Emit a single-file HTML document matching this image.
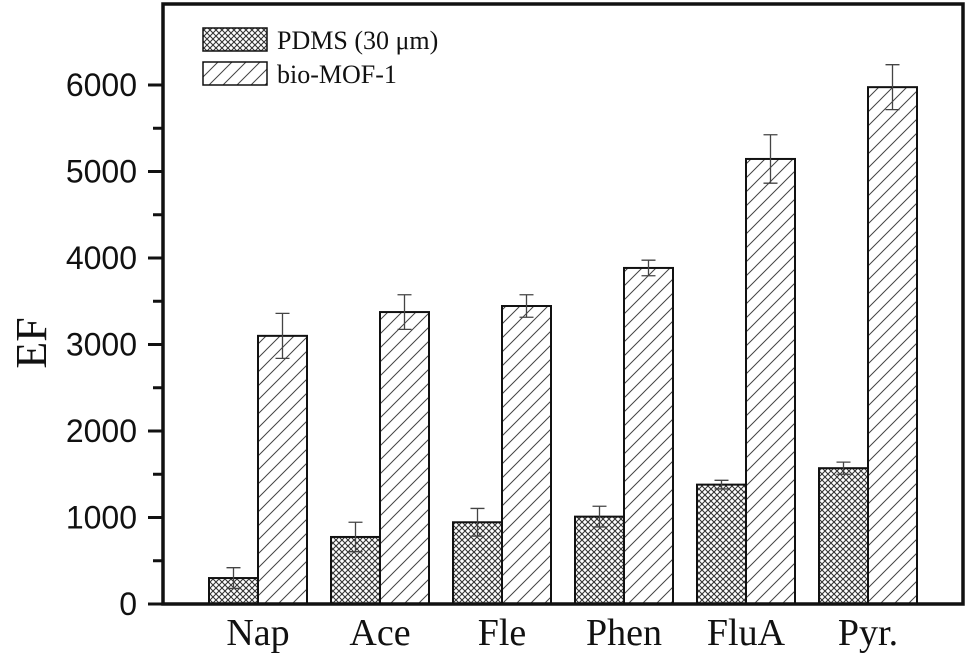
<!DOCTYPE html>
<html><head><meta charset="utf-8"><style>
body{margin:0;background:#fff}
svg text{font-family:"Liberation Serif",serif}
</style></head><body>
<svg id="c" width="974" height="656" viewBox="0 0 974 656">
<defs>
<pattern id="cross" width="6" height="6" patternUnits="userSpaceOnUse">
<rect width="6" height="6" fill="#fff"/>
<path d="M0,0L6,6M6,0L0,6" stroke="#333" stroke-width="1.1"/>
</pattern>
<pattern id="hatch" width="14" height="14" patternUnits="userSpaceOnUse">
<rect width="14" height="14" fill="#fff"/>
<path d="M-2,16L16,-2M-2,2L2,-2M12,16L16,12" stroke="#444" stroke-width="1"/>
</pattern>
</defs>
</svg>
<script>
const categories=["Nap","Ace","Fle","Phen","FluA","Pyr."];
const pdms=[300,775,945,1010,1380,1570];
const pdmsErr=[120,170,160,120,50,70];
const mof=[3100,3375,3445,3885,5145,5975];
const mofErr=[260,200,130,90,280,260];
const yTicks=[0,1000,2000,3000,4000,5000,6000];
const NS="http://www.w3.org/2000/svg";
const svg=document.getElementById('c');
const y=v=>604-v*0.0865;
const xc=i=>258+122*i;
const bw=49;
function el(t,a,p){const e=document.createElementNS(NS,t);for(const k in a)e.setAttribute(k,a[k]);(p||svg).appendChild(e);return e;}
function err(x,v,e){
  const g=el('g',{stroke:'#444','stroke-width':1.3,fill:'none'});
  
  
  el('path',{d:`M${x},${y(v-e)}V${y(v+e)}M${x-7},${y(v+e)}H${x+7}M${x-7},${y(v-e)}H${x+7}`},g);
}
categories.forEach((c,i)=>{
  const a=el('rect',{x:xc(i)-bw,y:y(pdms[i]),width:bw,height:y(0)-y(pdms[i]),fill:'url(#cross)',stroke:'#111','stroke-width':2});
  
  
  const b=el('rect',{x:xc(i),y:y(mof[i]),width:bw,height:y(0)-y(mof[i]),fill:'url(#hatch)',stroke:'#111','stroke-width':2});
  
  
  err(xc(i)-bw/2,pdms[i],pdmsErr[i]);
  err(xc(i)+bw/2,mof[i],mofErr[i]);
  const t=el('text',{x:xc(i),y:645,'font-size':38,'text-anchor':'middle',fill:'#111'});
  t.textContent=c;
  
  
});
yTicks.forEach((v,j)=>{
  const t=el('text',{x:137,y:y(v)+11,'font-size':32,'text-anchor':'end',fill:'#111',style:'font-family:"Liberation Sans",sans-serif'});
  t.textContent=v;
  
  
  const k=el('line',{x1:148,x2:163,y1:y(v),y2:y(v),stroke:'#111','stroke-width':3});
  
  
  if(j<yTicks.length-1){
    const vm=(v+yTicks[j+1])/2;
    const m=el('line',{x1:153,x2:163,y1:y(vm),y2:y(vm),stroke:'#111','stroke-width':3});
    
    
  }
});
const ax=el('rect',{x:163,y:4,width:800,height:600,fill:'none',stroke:'#111','stroke-width':3.5});


const yt=el('text',{x:0,y:0,'font-size':44,'text-anchor':'middle',fill:'#111',transform:'translate(46,343) rotate(-90)'});
yt.textContent='EF';


const lg=el('g',{});


el('rect',{x:203,y:28,width:64,height:23,fill:'url(#cross)',stroke:'#111','stroke-width':1.5},lg);
el('rect',{x:203,y:62,width:64,height:23,fill:'url(#hatch)',stroke:'#111','stroke-width':1.5},lg);
const l1=el('text',{x:277,y:49,'font-size':26,fill:'#111'},lg);l1.textContent='PDMS (30 μm)';


const l2=el('text',{x:277,y:83,'font-size':26,fill:'#111'},lg);l2.textContent='bio-MOF-1';


</script>
</body></html>
